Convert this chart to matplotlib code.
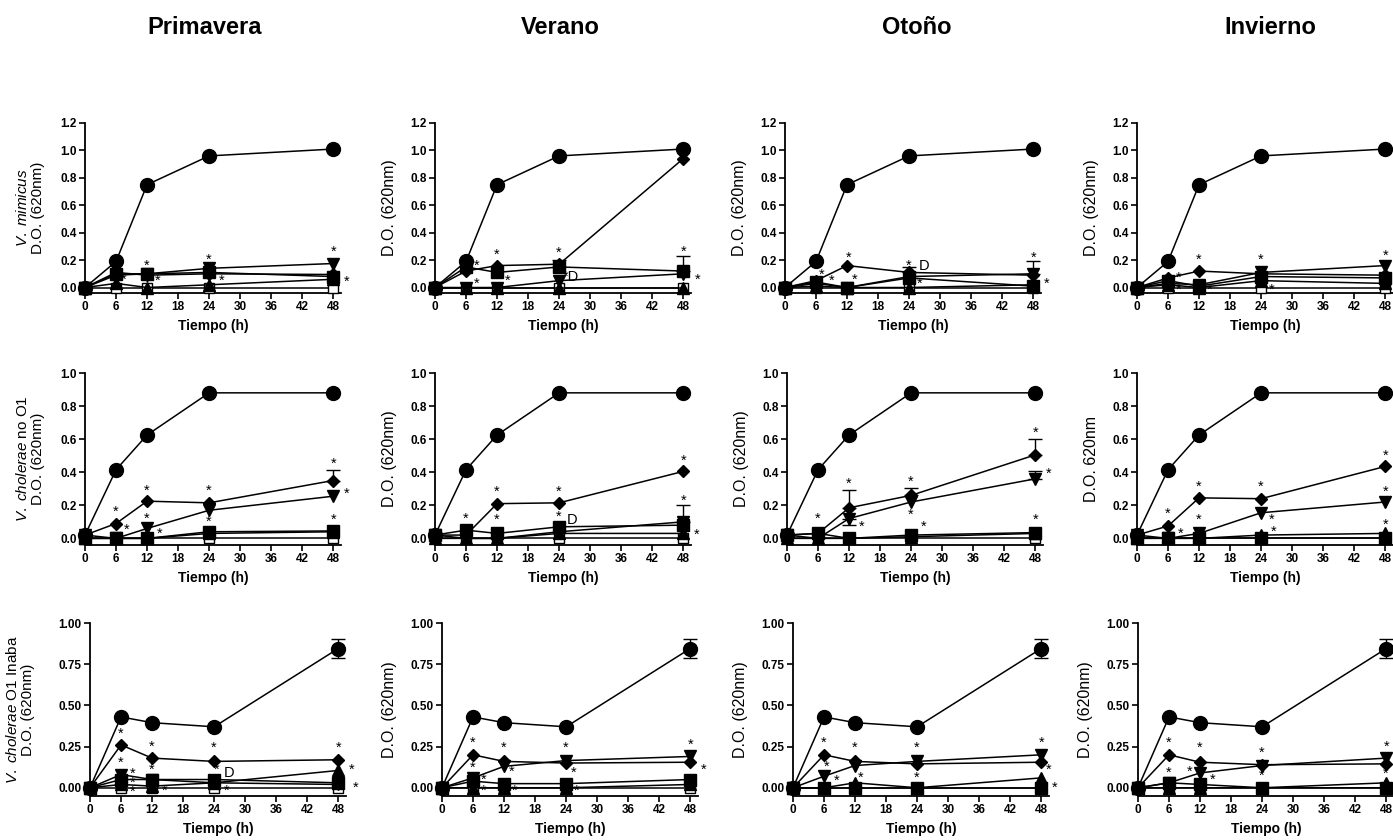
import matplotlib
matplotlib.use("Agg")
import matplotlib.pyplot as plt
from matplotlib.ticker import FormatStrFormatter

plt.rcParams['font.family'] = ['Liberation Sans', 'DejaVu Sans']
plt.rcParams['mathtext.fontset'] = 'custom'
plt.rcParams['mathtext.it'] = 'Liberation Sans:italic'
plt.rcParams['mathtext.rm'] = 'Liberation Sans'

# ---- data -------------------------------------------------------------
horas = [0, 6, 12, 24, 48]
estaciones = ["Primavera", "Verano", "Otoño", "Invierno"]

# control (circle) is the same in every column of a row
ctrl_mimicus = [0.0, 0.19, 0.75, 0.96, 1.01]
ctrl_no_o1 = [0.02, 0.415, 0.625, 0.88, 0.88]
ctrl_inaba = [0.0, 0.43, 0.395, 0.37, 0.845]

# V. mimicus
mim_prim = {"dia": [0, 0.11, 0.09, 0.10, 0.095], "vtri": [0, 0.09, 0.10, 0.14, 0.175],
            "sq": [0, 0.10, 0.10, 0.11, 0.08], "tri": [0, 0.03, 0.0, 0.02, 0.06]}
mim_ver = {"dia": [0, 0.12, 0.16, 0.17, 0.94], "vtri": [0, 0.0, 0.0, 0.05, 0.10],
           "sq": [0, 0.15, 0.11, 0.15, 0.12], "tri": [0, 0.0, 0.0, 0.0, 0.0]}
mim_oto = {"dia": [0, 0.05, 0.16, 0.11, 0.09], "vtri": [0, 0.03, 0.0, 0.08, 0.10],
           "sq": [0, 0.04, 0.0, 0.07, 0.01], "tri": [0, 0.01, 0.0, 0.0, 0.02]}
mim_inv = {"dia": [0, 0.07, 0.12, 0.10, 0.09], "vtri": [0, 0.03, 0.02, 0.11, 0.16],
           "sq": [0, 0.05, 0.01, 0.08, 0.07], "tri": [0, 0.02, 0.0, 0.05, 0.03]}

# V. cholerae no O1
no1_prim = {"dia": [0.02, 0.09, 0.225, 0.215, 0.35], "vtri": [0.02, 0.0, 0.06, 0.17, 0.255],
            "sq": [0, 0, 0, 0.04, 0.045], "tri": [0, 0, 0, 0.03, 0.04]}
no1_ver = {"dia": [0.02, 0.02, 0.21, 0.215, 0.405], "vtri": [0.02, 0.0, 0.0, 0.04, 0.10],
           "sq": [0.02, 0.05, 0.03, 0.07, 0.08], "tri": [0, 0, 0, 0.03, 0.03]}
no1_oto = {"dia": [0.02, 0.03, 0.185, 0.26, 0.505], "vtri": [0.02, 0.0, 0.12, 0.22, 0.36],
           "sq": [0.02, 0.03, 0.0, 0.02, 0.035], "tri": [0, 0, 0, 0.01, 0.03]}
no1_inv = {"dia": [0.02, 0.075, 0.245, 0.24, 0.435], "vtri": [0.02, 0.0, 0.03, 0.155, 0.22],
           "sq": [0, 0, 0, 0, 0], "tri": [0, 0, 0, 0.02, 0.03]}

# V. cholerae O1 Inaba
ina_prim = {"dia": [0, 0.26, 0.18, 0.16, 0.17], "vtri": [0, 0.08, 0.05, 0.03, 0.02],
            "sq": [0, 0.05, 0.05, 0.05, 0.03], "tri": [0, 0.02, 0.01, 0.03, 0.105]}
ina_ver = {"dia": [0, 0.20, 0.16, 0.15, 0.155], "vtri": [0, 0.06, 0.13, 0.165, 0.19],
           "sq": [0, 0.04, 0.025, 0.025, 0.05], "tri": [0, 0, 0, 0, 0.02]}
ina_oto = {"dia": [0, 0.20, 0.16, 0.145, 0.155], "vtri": [0, 0.07, 0.135, 0.16, 0.20],
           "sq": [0, 0, 0, 0, 0], "tri": [0, 0, 0.03, 0, 0.06]}
ina_inv = {"dia": [0, 0.20, 0.155, 0.14, 0.145], "vtri": [0, 0.03, 0.09, 0.135, 0.18],
           "sq": [0, 0.03, 0.02, 0, 0], "tri": [0, 0, 0, 0, 0.03]}

blanco = [0, 0, 0, 0, 0]  # open squares

# error bars: (series, time index, lower, upper)
err_mim = [[], [("sq", 3, 0.15, 0.20), ("sq", 4, 0.12, 0.23)],
           [("vtri", 4, 0.10, 0.19), ("dia", 3, 0.11, 0.15)], []]
err_no1 = [[("dia", 4, 0.35, 0.415)], [("vtri", 4, 0.10, 0.20)],
           [("dia", 2, 0.185, 0.29), ("dia", 3, 0.26, 0.305), ("dia", 4, 0.505, 0.60),
            ("vtri", 4, 0.36, 0.41), ("vtri", 2, 0.08, 0.12)], []]
err_ina = [[("ctrl", 4, 0.79, 0.90)]] * 4

# significance marks (x, y, text)
stars_mim = [
    [(12, 0.16, "*"), (24, 0.20, "*"), (48, 0.26, "*"), (7.5, 0.06, "*"), (14, 0.05, "*"),
     (26.5, 0.05, "*"), (50.5, 0.04, "*")],
    [(8, 0.16, "*"), (12, 0.24, "*"), (24, 0.25, "*"), (48, 0.26, "*"), (8, 0.03, "*"),
     (14, 0.05, "*"), (26.3, 0.08, "*D"), (50.8, 0.06, "*")],
    [(7, 0.09, "*"), (9, 0.05, "*"), (12.3, 0.22, "*"), (13.5, 0.06, "*"), (24, 0.16, "*"),
     (26.8, 0.16, "D"), (26, 0.03, "*"), (48, 0.22, "*"), (50.5, 0.03, "*")],
    [(8, 0.07, "*"), (12, 0.20, "*"), (24, 0.20, "*"), (48, 0.23, "*"), (8, -0.02, "*"),
     (14, -0.02, "*"), (26, -0.02, "*")],
]
stars_no1 = [
    [(6, 0.16, "*"), (12, 0.29, "*"), (24, 0.29, "*"), (48, 0.45, "*"), (12, 0.12, "*"),
     (8, 0.05, "*"), (14.5, 0.03, "*"), (24, 0.10, "*"), (48, 0.11, "*"), (50.5, 0.27, "*")],
    [(6, 0.12, "*"), (12, 0.28, "*"), (24, 0.28, "*"), (48, 0.47, "*"), (12, 0.11, "*"),
     (24, 0.13, "*"), (26.5, 0.11, "D"), (48, 0.23, "*"), (50.5, 0.02, "*")],
    [(6, 0.12, "*"), (12, 0.33, "*"), (24, 0.34, "*"), (48, 0.64, "*"), (24, 0.14, "*"),
     (14.5, 0.07, "*"), (26.5, 0.07, "*"), (48, 0.11, "*"), (50.5, 0.39, "*")],
    [(6, 0.15, "*"), (12, 0.31, "*"), (24, 0.31, "*"), (48, 0.50, "*"), (12, 0.11, "*"),
     (8.5, 0.03, "*"), (26, 0.11, "*"), (26.5, 0.04, "*"), (48, 0.08, "*"), (48, 0.28, "*")],
]
stars_ina = [
    [(6, 0.33, "*"), (12, 0.25, "*"), (24, 0.24, "*"), (48, 0.24, "*"), (6, 0.15, "*"),
     (12, 0.11, "*"), (24.5, 0.11, "*"), (26.8, 0.09, "D"), (50.5, 0.11, "*"), (51.3, 0.0, "*"),
     (14.5, -0.02, "*"), (26.5, -0.02, "*"), (8.3, 0.03, "*\n*\n*")],
    [(6, 0.27, "*"), (12, 0.24, "*"), (24, 0.24, "*"), (48, 0.26, "*"), (6, 0.12, "*"),
     (8, 0.05, "*"), (13.5, 0.10, "*"), (25.5, 0.09, "*"), (8, -0.02, "*"), (14, -0.02, "*"),
     (26, -0.02, "*"), (50.5, 0.11, "*")],
    [(6, 0.27, "*"), (12, 0.24, "*"), (24, 0.24, "*"), (48, 0.27, "*"), (6.5, 0.13, "*"),
     (8.5, 0.04, "*"), (13, 0.06, "*"), (24, 0.06, "*"), (49.5, 0.11, "*"), (50.5, 0.0, "*")],
    [(6, 0.27, "*"), (12, 0.24, "*"), (24, 0.21, "*"), (48, 0.25, "*"), (6, 0.09, "*"),
     (10, 0.10, "*"), (14.5, 0.05, "*"), (24, 0.07, "*"), (47.8, 0.085, "*")],
]

filas = [
    {"ctrl": ctrl_mimicus, "panels": [mim_prim, mim_ver, mim_oto, mim_inv], "err": err_mim,
     "stars": stars_mim, "ylim": (-0.04, 1.2), "yticks": [0, 0.2, 0.4, 0.6, 0.8, 1.0, 1.2],
     "fmt": "%.1f", "first": r"$\it{V.\ mimicus}$" + "\nD.O. (620nm)",
     "ylab": ["D.O. (620nm)"] * 3},
    {"ctrl": ctrl_no_o1, "panels": [no1_prim, no1_ver, no1_oto, no1_inv], "err": err_no1,
     "stars": stars_no1, "ylim": (-0.04, 1.0), "yticks": [0, 0.2, 0.4, 0.6, 0.8, 1.0],
     "fmt": "%.1f", "first": r"$\it{V.\ cholerae}$ no O1" + "\nD.O. (620nm)",
     "ylab": ["D.O. (620nm)", "D.O. (620nm)", "D.O. 620nm"]},
    {"ctrl": ctrl_inaba, "panels": [ina_prim, ina_ver, ina_oto, ina_inv], "err": err_ina,
     "stars": stars_ina, "ylim": (-0.05, 1.0), "yticks": [0, 0.25, 0.5, 0.75, 1.0],
     "fmt": "%.2f", "first": r"$\it{V.\ cholerae}$ O1 Inaba" + "\nD.O. (620nm)",
     "ylab": ["D.O. (620nm)"] * 3},
]

# ---- layout (pixels) --------------------------------------------------
W, H = 1393, 840
tops = [123, 373, 623]
bottoms = [293, 545, 796]
lefts = [[85, 435, 785, 1137], [85, 435, 787, 1137], [90, 442, 793, 1138]]
ax_w = 256
lab_first = [-40, -40, -55]
lab_other = [-38, -38, -45]

estilos = {
    "open": dict(marker="s", ms=7, mfc="white", mec="black"),
    "tri": dict(marker="^", ms=8, mfc="black", mec="black"),
    "sq": dict(marker="s", ms=8, mfc="black", mec="black"),
    "vtri": dict(marker="v", ms=9, mfc="black", mec="black"),
    "dia": dict(marker="D", ms=6, mfc="black", mec="black"),
    "ctrl": dict(marker="o", ms=10, mfc="black", mec="black"),
}

fig = plt.figure(figsize=(W / 100, H / 100), dpi=100)

col_x = [205, 560, 917, 1270]
for nombre, cx in zip(estaciones, col_x):
    fig.text(cx / W, 1 - 28 / H, nombre, ha="center", va="center",
             fontsize=17, fontweight="bold")

for r, fila in enumerate(filas):
    for c in range(4):
        left, top, bot = lefts[r][c], tops[r], bottoms[r]
        ax = fig.add_axes([left / W, 1 - bot / H, ax_w / W, (bot - top) / H])
        datos = dict(fila["panels"][c])
        datos["open"] = blanco
        datos["ctrl"] = fila["ctrl"]
        for key in ["open", "tri", "sq", "vtri", "dia", "ctrl"]:
            ax.plot(horas, datos[key], color="black", lw=1.1, clip_on=False,
                    zorder=3, **estilos[key])
        for serie, i, lo, hi in fila["err"][c]:
            ax.errorbar([horas[i]], [datos[serie][i]],
                        yerr=[[datos[serie][i] - lo], [hi - datos[serie][i]]],
                        fmt="none", ecolor="black", elinewidth=1.0, capsize=5,
                        capthick=1.0, zorder=2, clip_on=False)
        for sx, sy, txt in fila["stars"][c]:
            ax.text(sx, sy, txt, ha="center", va="center", fontsize=10.5,
                    linespacing=0.55, clip_on=False, zorder=4)

        ax.set_xlim(0, 49.5)
        ax.set_ylim(*fila["ylim"])
        ax.set_xticks([0, 6, 12, 18, 24, 30, 36, 42, 48])
        ax.set_yticks(fila["yticks"])
        ax.yaxis.set_major_formatter(FormatStrFormatter(fila["fmt"]))
        ax.spines["top"].set_visible(False)
        ax.spines["right"].set_visible(False)
        for s in ["left", "bottom"]:
            ax.spines[s].set_linewidth(1.3)
        ax.tick_params(direction="out", length=4, width=1.2, labelsize=8.5, pad=2)
        for lab in ax.get_xticklabels() + ax.get_yticklabels():
            lab.set_fontweight("bold")
        ax.set_xlabel("Tiempo (h)", fontsize=10, fontweight="bold", labelpad=4)
        if c == 0:
            ax.set_ylabel(fila["first"], fontsize=11, linespacing=1.05)
            ax.yaxis.set_label_coords(lab_first[r] / ax_w, 0.5)
        else:
            ax.set_ylabel(fila["ylab"][c - 1], fontsize=11.5)
            ax.yaxis.set_label_coords(lab_other[r] / ax_w, 0.5)

fig.savefig("out.png", dpi=100)
